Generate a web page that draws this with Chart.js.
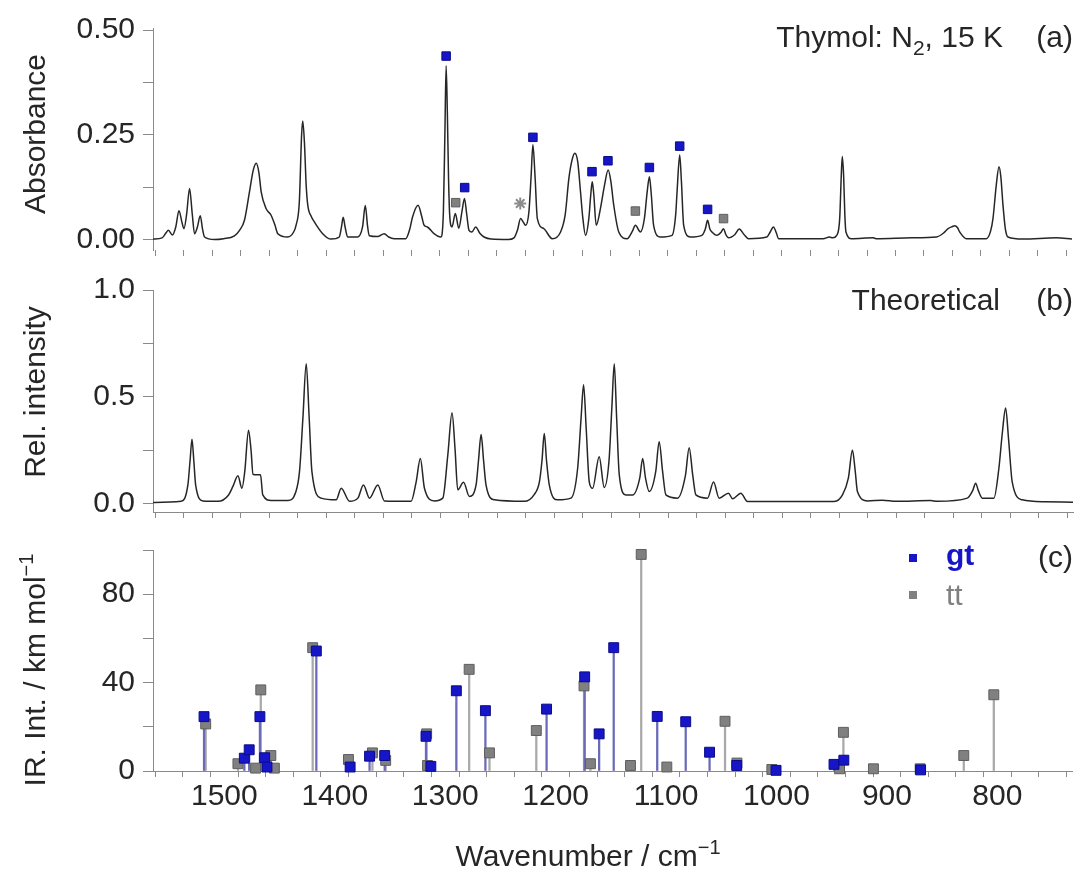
<!DOCTYPE html>
<html>
<head>
<meta charset="utf-8">
<script src="https://cdn.jsdelivr.net/npm/chart.js@4.4.1/dist/chart.umd.min.js"></script>
<style>
  html, body { margin: 0; padding: 0; background: #fff; }
  #wrap { position: relative; width: 1080px; height: 880px; overflow: hidden; }
  #wrap canvas { position: absolute; left: 0; }
</style>
</head>
<body>
<div id="wrap">
  <canvas id="panelA" width="1080" height="262" style="top:0px"></canvas>
  <canvas id="panelB" width="1080" height="262" style="top:262px"></canvas>
  <canvas id="panelC" width="1080" height="356" style="top:524px"></canvas>
</div>
<script>
// ---- data ----
// (a) measured absorbance, [wavenumber, absorbance]
const absorbance = [
  [1552,0.001],[1544,0.004],[1540.5,0.016],[1538.5,0.022],[1535,0.011],[1532,0.030],[1529.2,0.069],[1526.5,0.040],
  [1524.8,0.026],[1522.5,0.060],[1519.9,0.122],[1517.5,0.060],[1515.5,0.014],[1513,0.030],[1510.5,0.057],[1508.5,0.025],
  [1506.7,0.006],[1498,0.000],[1490,0.002],[1480.5,0.009],[1476,0.022],[1471.7,0.046],[1467.5,0.110],[1464,0.165],
  [1461.4,0.182],[1459,0.160],[1457,0.114],[1452.7,0.074],[1448.3,0.058],[1445,0.035],[1442.4,0.014],[1433.7,0.006],
  [1428.5,0.018],[1426.4,0.034],[1423.5,0.090],[1421.5,0.250],[1420.5,0.283],[1419,0.230],[1417.5,0.130],[1416.1,0.082],
  [1413,0.055],[1410.3,0.042],[1403,0.014],[1395.7,0.001],[1388.4,0.006],[1386.5,0.030],[1385,0.053],[1383.3,0.030],
  [1381.1,0.006],[1372.3,0.006],[1368,0.030],[1365.6,0.081],[1363.5,0.030],[1362.1,0.009],[1354.8,0.007],[1349,0.014],
  [1345,0.006],[1340.2,0.002],[1330,0.002],[1326.5,0.025],[1324.1,0.054],[1319.2,0.082],[1316,0.055],[1313.9,0.034],
  [1311,0.030],[1305.2,0.014],[1299.3,0.006],[1297,0.066],[1295.7,0.250],[1294.6,0.415],[1293.5,0.300],[1292.5,0.150],
  [1291.5,0.060],[1289.5,0.030],[1286.5,0.062],[1283.5,0.027],[1280.5,0.070],[1278.5,0.098],[1276.5,0.060],[1274.5,0.022],
  [1272,0.018],[1268.6,0.030],[1265,0.015],[1261.3,0.006],[1255,0.001],[1240,0.000],[1235,0.004],[1232,0.022],
  [1229.2,0.050],[1226.5,0.040],[1224.8,0.034],[1221.9,0.066],[1220,0.150],[1218.4,0.226],[1216.5,0.150],[1214.5,0.050],
  [1208.8,0.026],[1201.4,0.002],[1194.1,0.018],[1190,0.060],[1186.8,0.146],[1184,0.190],[1181.6,0.206],[1179,0.185],
  [1176.6,0.114],[1174.5,0.050],[1172.2,0.010],[1169.3,0.050],[1167.5,0.110],[1166.3,0.138],[1165,0.110],[1162.8,0.034],
  [1159.1,0.074],[1155.5,0.130],[1152.3,0.166],[1150,0.140],[1147.4,0.082],[1143,0.018],[1135.7,0.002],[1131,0.020],
  [1128.4,0.034],[1124,0.018],[1120.5,0.050],[1118,0.115],[1116.1,0.150],[1114.5,0.110],[1112.4,0.034],[1106.5,0.006],
  [1096.2,0.010],[1093,0.060],[1091.8,0.114],[1089.5,0.202],[1088,0.140],[1086,0.034],[1080.2,0.006],[1070,0.010],
  [1067,0.025],[1065,0.046],[1063,0.025],[1061.2,0.018],[1056.8,0.010],[1053,0.018],[1051,0.026],[1049,0.012],
  [1046.6,0.004],[1041,0.012],[1037.2,0.025],[1033,0.012],[1029.1,0.002],[1013,0.006],[1010,0.018],[1007.2,0.030],
  [1004.5,0.015],[1002.8,0.002],[963.4,0.002],[958.1,0.006],[955,0.004],[951.6,0.010],[949,0.050],[947.5,0.160],
  [946.7,0.198],[945.5,0.150],[944.5,0.060],[943.5,0.018],[938.5,0.002],[919.6,0.004],[917,0.002],[885.9,0.004],
  [864,0.006],[858,0.015],[853.8,0.026],[850,0.031],[847.9,0.033],[845.5,0.028],[843.6,0.018],[837.7,0.002],
  [820.2,0.002],[816.5,0.020],[814.4,0.050],[811.5,0.130],[809.1,0.174],[807.5,0.150],[805.6,0.082],[803.5,0.025],
  [801.2,0.006],[788.1,0.001],[758.8,0.004],[745,0.001]
];
// band assignments marked above the measured spectrum
const gtBands = [[1294.6,0.438],[1278.3,0.124],[1218.4,0.244],[1166.5,0.162],[1152.5,0.188],[1116.1,0.172],[1089.5,0.223],[1065,0.072]];
const ttBands = [[1286.2,0.088],[1128.4,0.068],[1051,0.050]];
const starBands = [[1229.5,0.086]];

// (b) theoretical spectrum, [wavenumber, relative intensity]
const theoretical = [
  [1552,0.005],[1527.2,0.010],[1521.4,0.087],[1519.5,0.200],[1517.8,0.301],[1516.2,0.200],[1514.6,0.087],[1508.2,0.012],
  [1495,0.010],[1485.7,0.040],[1481.9,0.080],[1477.5,0.130],[1474,0.071],[1471.5,0.150],[1468.2,0.343],[1466,0.250],
  [1464.3,0.137],[1461,0.134],[1457.7,0.134],[1455.7,0.040],[1448.3,0.014],[1433.7,0.014],[1427,0.050],[1423.5,0.149],
  [1420.5,0.400],[1417.6,0.654],[1415,0.400],[1412.6,0.149],[1404.5,0.025],[1391.3,0.017],[1386.9,0.071],[1379.6,0.010],
  [1372.3,0.025],[1367.4,0.087],[1362.1,0.025],[1354.8,0.087],[1349,0.012],[1325.6,0.010],[1321.2,0.100],[1317.5,0.211],
  [1313.9,0.071],[1305.2,0.012],[1297.8,0.025],[1293.4,0.227],[1289.7,0.425],[1287,0.250],[1284.7,0.064],[1279.6,0.099],
  [1274.5,0.033],[1268.6,0.087],[1266.5,0.200],[1264.2,0.323],[1262,0.200],[1259.9,0.087],[1252.6,0.017],[1226.3,0.010],
  [1217.5,0.043],[1213.1,0.100],[1210.8,0.200],[1208.8,0.328],[1206.8,0.200],[1204.4,0.087],[1197,0.017],[1185.4,0.025],
  [1179.5,0.165],[1176.5,0.400],[1174.3,0.556],[1172,0.350],[1169.3,0.100],[1166.4,0.071],[1160.6,0.219],[1156.2,0.075],
  [1152,0.200],[1149.5,0.450],[1147.4,0.654],[1145.3,0.400],[1143,0.134],[1137.2,0.040],[1131.3,0.040],[1125,0.120],
  [1122.5,0.211],[1120,0.120],[1116.7,0.056],[1111,0.150],[1108,0.289],[1105,0.150],[1102.1,0.040],[1091.9,0.025],
  [1085,0.130],[1081.7,0.261],[1078.5,0.130],[1075.8,0.040],[1065.6,0.025],[1060.3,0.100],[1055.4,0.025],[1047.2,0.048],
  [1043.6,0.022],[1036.4,0.048],[1030.5,0.009],[954.6,0.009],[947.2,0.040],[942,0.120],[938.5,0.250],[936,0.150],
  [934.1,0.056],[925.3,0.012],[912.2,0.015],[900,0.010],[869.9,0.014],[864,0.010],[837.7,0.025],[833,0.060],
  [830.4,0.095],[828,0.060],[824.5,0.025],[814.4,0.025],[810,0.165],[807,0.330],[804.1,0.447],[801.5,0.300],
  [798.3,0.100],[789.5,0.017],[770,0.008],[745,0.006]
];

// (c) computed IR intensities (km/mol) for the two conformers
const gtIntensity = [
  [1518.4,24.6],[1481.9,5.8],[1477.5,9.6],[1467.8,24.6],[1463.5,6.0],[1461.4,1.8],[1416.7,54.3],[1386.1,1.8],
  [1368.5,6.7],[1354.8,7.0],[1317.4,15.7],[1313.0,2.1],[1289.9,36.3],[1263.6,27.3],[1208.2,28.0],[1173.7,42.6],
  [1160.6,16.8],[1147.4,55.8],[1108.0,24.7],[1082.2,22.3],[1060.6,8.5],[1036.0,2.5],[1000.4,0.3],[947.9,3.0],
  [939.0,4.9],[869.5,0.5]
];
const ttIntensity = [
  [1516.9,21.3],[1487.7,3.3],[1471.7,1.3],[1467.0,36.7],[1457.9,7.0],[1454.7,1.3],[1420.0,55.8],[1387.6,5.2],
  [1365.9,8.2],[1353.9,4.8],[1316.8,16.8],[1316.0,2.5],[1278.3,46.0],[1259.9,8.2],[1217.5,18.3],[1174.3,38.5],
  [1168.5,3.3],[1132.2,2.5],[1122.5,98.0],[1099.3,1.8],[1046.6,22.5],[1035.8,3.6],[1004.2,0.7],[942.9,1.0],
  [939.4,17.5],[912.2,1.0],[869.9,1.0],[830.4,7.0],[803.2,34.5]
];

// axes
const xRange = [745, 1552];
const xTickValues = [1550,1525,1500,1475,1450,1425,1400,1375,1350,1325,1300,1275,1250,1225,1200,1175,1150,
  1125,1100,1075,1050,1025,1000,975,950,925,900,875,850,825,800,775,750];
const xLabelValues = [1500,1400,1300,1200,1100,1000,900,800];
const absTicks = [0, 0.125, 0.25, 0.375, 0.5];
const absTickLabels = ['0.00', '', '0.25', '', '0.50'];
const relTicks = [0, 0.25, 0.5, 0.75, 1.0];
const relTickLabels = ['0.0', '', '0.5', '', '1.0'];
const irTicks = [0, 20, 40, 60, 80, 100];
const irTickLabels = ['0', '', '40', '', '80', ''];

// ---- styling ----
const FONT = '"Liberation Sans", Arial, Helvetica, sans-serif';
const INK = '#262626';
const AXIS = '#8a8a8a';
const BLUE = '#1616c8';
const BLUE_EDGE = '#0b0b8a';
const BLUE_STEM = '#6a6ab8';
const GREY = '#808080';
const GREY_EDGE = '#5e5e5e';
const GREY_STEM = '#a9a9a9';
const PLOT_LEFT = 153;
const PLOT_RIGHT_PAD = 7;

const toPoints = pairs => pairs.map(([x, y]) => ({x, y}));

function xScale(opts) {
  return {
    type: 'linear',
    min: xRange[0],
    max: xRange[1],
    reverse: true,
    afterBuildTicks: s => { s.ticks = xTickValues.map(v => ({value: v})); },
    afterFit: s => { s.height = opts.height; s.paddingLeft = 0; s.paddingRight = 0; },
    grid: {drawOnChartArea: false, drawTicks: true, tickLength: 6, color: AXIS},
    border: {display: opts.border, color: AXIS, width: 1},
    ticks: {
      display: opts.labels,
      autoSkip: false,
      maxRotation: 0,
      padding: 2,
      color: INK,
      font: {family: FONT, size: 30},
      callback: v => xLabelValues.includes(v) ? String(v) : ''
    }
  };
}

function yScale(min, max, ticks, labels) {
  return {
    type: 'linear',
    min: min,
    max: max,
    afterBuildTicks: s => { s.ticks = ticks.map(v => ({value: v})); },
    afterFit: s => { s.width = PLOT_LEFT; s.paddingTop = 0; s.paddingBottom = 0; },
    grid: {drawOnChartArea: false, drawTicks: true, tickLength: 10, color: AXIS},
    border: {display: true, color: AXIS, width: 1},
    ticks: {
      autoSkip: false,
      padding: 8,
      color: INK,
      font: {family: FONT, size: 30},
      callback: (v, i) => labels[i]
    }
  };
}

// draws text runs (with sub/superscripts) and simple legend squares
function drawRich(ctx, item, top) {
  ctx.save();
  ctx.translate(item.x, item.y - top);
  if (item.rotate) ctx.rotate(item.rotate);
  ctx.textBaseline = 'alphabetic';
  const runs = item.parts.map(p => Object.assign({}, p, {
    font: (p.bold ? 'bold ' : '') + (p.size || 30) + 'px ' + FONT
  }));
  let total = 0;
  runs.forEach(r => { ctx.font = r.font; r.w = ctx.measureText(r.t).width; total += r.w; });
  let x = item.align === 'right' ? -total : item.align === 'center' ? -total / 2 : 0;
  runs.forEach(r => {
    ctx.font = r.font;
    ctx.fillStyle = r.color || INK;
    ctx.fillText(r.t, x, r.dy || 0);
    x += r.w;
  });
  ctx.restore();
}

const panelText = {
  id: 'panelText',
  afterDraw(chart, args, opts) {
    const ctx = chart.ctx;
    const top = opts.top || 0;
    (opts.squares || []).forEach(sq => {
      ctx.fillStyle = sq.color;
      ctx.fillRect(sq.x - sq.s / 2, sq.y - top - sq.s / 2, sq.s, sq.s);
    });
    (opts.items || []).forEach(it => drawRich(ctx, it, top));
  }
};

const common = {
  responsive: false,
  animation: false,
  devicePixelRatio: 1,
  events: [],
  plugins: {legend: {display: false}, tooltip: {enabled: false}}
};

function lineSet(pairs) {
  return {
    type: 'line',
    data: toPoints(pairs),
    borderColor: INK,
    borderWidth: 1.5,
    pointRadius: 0,
    cubicInterpolationMode: 'monotone',
    order: 5
  };
}

function markSet(pairs, fill, edge, order, radius) {
  return {
    type: 'scatter',
    data: toPoints(pairs),
    pointStyle: 'rect',
    pointRadius: radius,
    backgroundColor: fill,
    borderColor: edge,
    borderWidth: 1,
    clip: false,
    order: order
  };
}

// ---- (a) measured spectrum ----
new Chart(document.getElementById('panelA'), {
  type: 'line',
  data: {
    datasets: [
      lineSet(absorbance),
      {
        type: 'scatter',
        data: toPoints(starBands),
        pointStyle: 'star',
        pointRadius: 6,
        borderColor: '#8c8c8c',
        borderWidth: 2,
        order: 2
      },
      markSet(ttBands, GREY, GREY_EDGE, 1, 6),
      markSet(gtBands, BLUE, BLUE_EDGE, 0, 6)
    ]
  },
  options: Object.assign({}, common, {
    layout: {padding: {top: 28, left: 0, right: PLOT_RIGHT_PAD, bottom: 0}},
    scales: {
      x: xScale({height: 12, labels: false, border: false}),
      y: yScale(-0.025, 0.505, absTicks, absTickLabels)
    },
    plugins: Object.assign({}, common.plugins, {
      panelText: {
        top: 0,
        items: [
          {x: 45, y: 134, rotate: -Math.PI / 2, align: 'center', parts: [{t: 'Absorbance'}]},
          {x: 1003, y: 47, align: 'right', parts: [{t: 'Thymol: N'}, {t: '2', size: 21, dy: 8}, {t: ', 15 K'}]},
          {x: 1073, y: 47, align: 'right', parts: [{t: '(a)'}]}
        ]
      }
    })
  }),
  plugins: [panelText]
});

// ---- (b) theoretical spectrum ----
new Chart(document.getElementById('panelB'), {
  type: 'line',
  data: {datasets: [lineSet(theoretical)]},
  options: Object.assign({}, common, {
    layout: {padding: {top: 28, left: 0, right: PLOT_RIGHT_PAD, bottom: 0}},
    scales: {
      x: xScale({height: 12, labels: false, border: true}),
      y: yScale(-0.04, 1.0, relTicks, relTickLabels)
    },
    plugins: Object.assign({}, common.plugins, {
      panelText: {
        top: 262,
        items: [
          {x: 45, y: 392, rotate: -Math.PI / 2, align: 'center', parts: [{t: 'Rel. intensity'}]},
          {x: 1000, y: 310, align: 'right', parts: [{t: 'Theoretical'}]},
          {x: 1073, y: 310, align: 'right', parts: [{t: '(b)'}]}
        ]
      }
    })
  }),
  plugins: [panelText]
});

// ---- (c) stick spectra of the conformers ----
function stemSet(pairs, color, order) {
  return {
    type: 'bar',
    data: toPoints(pairs),
    backgroundColor: color,
    barThickness: 1.6,
    grouped: false,
    order: order
  };
}

new Chart(document.getElementById('panelC'), {
  type: 'bar',
  data: {
    datasets: [
      stemSet(ttIntensity, GREY_STEM, 3),
      stemSet(gtIntensity, BLUE_STEM, 2),
      markSet(ttIntensity, GREY, GREY_EDGE, 1, 7),
      markSet(gtIntensity, BLUE, BLUE_EDGE, 0, 7)
    ]
  },
  options: Object.assign({}, common, {
    layout: {padding: {top: 26, left: 0, right: PLOT_RIGHT_PAD, bottom: 0}},
    scales: {
      x: xScale({height: 109, labels: true, border: true}),
      y: yScale(0, 100, irTicks, irTickLabels)
    },
    plugins: Object.assign({}, common.plugins, {
      panelText: {
        top: 524,
        squares: [
          {x: 913, y: 558, s: 8, color: BLUE},
          {x: 913, y: 595, s: 8, color: GREY}
        ],
        items: [
          {x: 45, y: 670, rotate: -Math.PI / 2, align: 'center',
           parts: [{t: 'IR. Int. / km mol'}, {t: '\u22121', size: 20, dy: -12}]},
          {x: 588, y: 866, align: 'center', parts: [{t: 'Wavenumber / cm'}, {t: '\u22121', size: 20, dy: -12}]},
          {x: 946, y: 565, align: 'left', parts: [{t: 'gt', bold: true, color: BLUE}]},
          {x: 946, y: 605, align: 'left', parts: [{t: 'tt', color: GREY}]},
          {x: 1073, y: 567, align: 'right', parts: [{t: '(c)'}]}
        ]
      }
    })
  }),
  plugins: [panelText]
});
</script>
</body>
</html>
